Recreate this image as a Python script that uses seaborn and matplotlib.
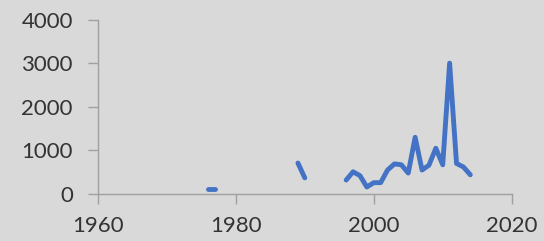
import numpy as np
import pandas as pd
import seaborn as sns
import matplotlib
matplotlib.use("Agg")
import matplotlib.pyplot as plt

years = [1976, 1977, 1978, 1989, 1990, 1991,
         1996, 1997, 1998, 1999, 2000, 2001, 2002, 2003, 2004, 2005,
         2006, 2007, 2008, 2009, 2010, 2011, 2012, 2013, 2014]
values = [110, 110, np.nan, 710, 370, np.nan,
          320, 510, 420, 160, 260, 260, 550, 690, 670, 480,
          1300, 550, 660, 1050, 670, 3000, 700, 620, 440]

df = pd.DataFrame({"year": years, "value": values})
# split into separate runs wherever a value is missing
df["seg"] = df["value"].isna().cumsum()
df = df.dropna()

sns.set_style("white")
plt.rcParams['font.family'] = ['Lato', 'DejaVu Sans']

bg = "#d9d9d9"
fig = plt.figure(figsize=(5.44, 2.41), dpi=100, facecolor=bg)
ax = fig.add_axes([0.18, 0.195, 0.7606, 0.724])
ax.set_facecolor(bg)

for _, part in df.groupby("seg"):
    sns.lineplot(data=part, x="year", y="value", ax=ax, color="#4472c4",
                 linewidth=3.5, solid_capstyle="round", solid_joinstyle="round")

ax.set_xlim(1960, 2020)
ax.set_ylim(0, 4000)
ax.set_xticks([1960, 1980, 2000, 2020])
ax.set_yticks([0, 1000, 2000, 3000, 4000])
ax.set_xlabel("")
ax.set_ylabel("")

for side in ["top", "right"]:
    ax.spines[side].set_visible(False)
for side in ["left", "bottom"]:
    ax.spines[side].set_color("#a0a0a0")
    ax.spines[side].set_linewidth(1)

ax.tick_params(axis="both", direction="out", color="#a0a0a0", length=7,
               width=1, labelsize=16, labelcolor="#333333",
               bottom=True, left=True)
ax.tick_params(axis="y", pad=11)
ax.tick_params(axis="x", pad=9)
for line in ax.get_lines():
    line.set_clip_on(False)

fig.savefig("out.png", dpi=100, facecolor=bg)
